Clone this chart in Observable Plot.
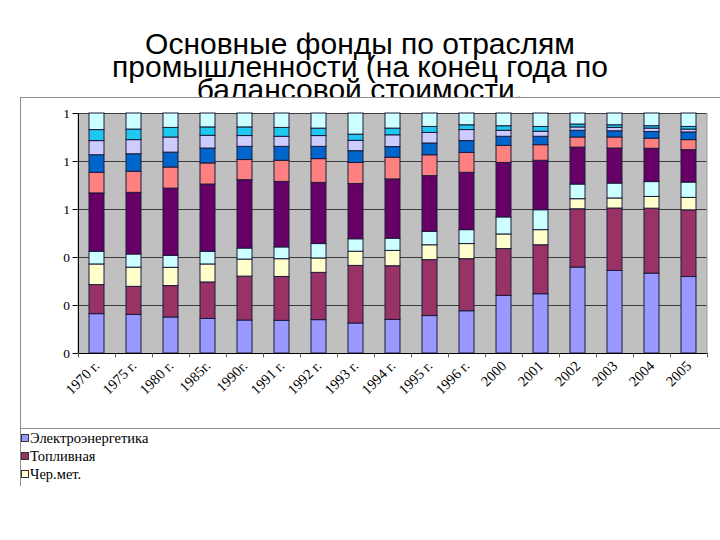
<!DOCTYPE html>
<html>
<head>
<meta charset="utf-8">
<script src="https://cdn.jsdelivr.net/npm/d3@7"></script>
<script src="https://cdn.jsdelivr.net/npm/@observablehq/plot@0.6"></script>
<style>
  html, body { margin: 0; padding: 0; background: #fff; width: 720px; height: 540px; overflow: hidden; }
  #title { position: absolute; left: 0; top: 32px; width: 720px; text-align: center;
    font-family: "Liberation Sans", Arial, sans-serif; font-size: 30px; line-height: 23px; color: #000; z-index: 0; }
  #box { position: absolute; left: 20px; top: 97px; width: 720px; height: 388px; background: #fff;
    border-top: 1px solid #8c8c8c; border-left: 1px solid #8c8c8c; z-index: 1; }
  #chart { position: absolute; left: 0; top: 0; }
  #legend { position: absolute; left: 0; top: 330px; width: 720px; border-top: 1px solid #8c8c8c;
    font-family: "Liberation Serif", "Times New Roman", serif; font-size: 14.5px; color: #000; }
  .item { height: 18px; line-height: 18px; display: flex; align-items: center; }
  .sw { width: 6px; height: 6px; border: 1px solid #333; margin-right: 1px; margin-left: 0px; }
</style>
</head>
<body>
<div id="title">Основные фонды по отраслям<br>промышленности (на конец года по<br>балансовой стоимости.</div>
<div id="box"><div id="chart"></div><div id="legend"></div></div>
<script>
const years = ["1970 г.", "1975 г.", "1980 г.", "1985г.", "1990г.", "1991 г.", "1992 г.", "1993 г.", "1994 г.", "1995 г.", "1996 г.", "2000", "2001", "2002", "2003", "2004", "2005"];
const yTicks = [0, 0.2, 0.4, 0.6, 0.8, 1];

const industryNames = ["Электроэнергетика", "Топливная", "Чер.мет.", "Цвет.мет.", "Машиностроение", "Хим. и нефтехим.", "Лесная", "Стройматериалы", "Легкая", "Пищевая"];
const industryColors = ["#9999ff", "#993366", "#ffffcc", "#ccffff", "#660066", "#ff8080", "#0066cc", "#ccccff", "#1ec8f0", "#ccffff"];
const legendShown = ["Электроэнергетика", "Топливная", "Чер.мет."];

const electro   = [0.164, 0.161, 0.150, 0.144, 0.1375, 0.136, 0.139, 0.125, 0.140, 0.156, 0.176, 0.240, 0.247, 0.358, 0.344, 0.333, 0.319];
const fuel      = [0.121, 0.117, 0.131, 0.152, 0.183, 0.183, 0.197, 0.240, 0.224, 0.233, 0.217, 0.195, 0.204, 0.243, 0.260, 0.271, 0.278];
const ferrous   = [0.086, 0.080, 0.076, 0.075, 0.071, 0.074, 0.060, 0.059, 0.064, 0.062, 0.063, 0.061, 0.063, 0.042, 0.042, 0.049, 0.052];
const nonferr   = [0.053, 0.055, 0.050, 0.053, 0.046, 0.049, 0.060, 0.052, 0.051, 0.056, 0.058, 0.071, 0.083, 0.061, 0.062, 0.062, 0.064];
const machinery = [0.243, 0.257, 0.280, 0.280, 0.285, 0.273, 0.255, 0.230, 0.247, 0.232, 0.239, 0.227, 0.206, 0.154, 0.146, 0.139, 0.135];
const chemical  = [0.086, 0.088, 0.088, 0.088, 0.084, 0.088, 0.099, 0.088, 0.091, 0.087, 0.083, 0.071, 0.065, 0.042, 0.046, 0.042, 0.042];
const forest    = [0.073, 0.073, 0.062, 0.062, 0.055, 0.058, 0.051, 0.049, 0.044, 0.049, 0.049, 0.038, 0.035, 0.028, 0.026, 0.028, 0.032];
const building  = [0.059, 0.059, 0.063, 0.053, 0.045, 0.042, 0.045, 0.043, 0.049, 0.044, 0.046, 0.025, 0.021, 0.014, 0.014, 0.014, 0.012];
const light     = [0.046, 0.044, 0.040, 0.035, 0.036, 0.037, 0.031, 0.026, 0.028, 0.025, 0.020, 0.019, 0.020, 0.012, 0.011, 0.010, 0.011];
const food      = [0.069, 0.067, 0.060, 0.058, 0.058, 0.060, 0.063, 0.088, 0.063, 0.056, 0.049, 0.053, 0.056, 0.046, 0.049, 0.053, 0.056];

const seriesValues = [electro, fuel, ferrous, nonferr, machinery, chemical, forest, building, light, food];

const rows = [];
industryNames.forEach((name, i) => {
  years.forEach((yr, j) => rows.push({year: yr, industry: name, value: seriesValues[i][j]}));
});

const W = 700, ML = 56.5, MR = 14.5;
const halfStep = (W - ML - MR) / years.length / 2;
const serif = "'Liberation Serif', 'Times New Roman', serif";

const chart = Plot.plot({
  width: W,
  height: 330,
  marginLeft: ML,
  marginRight: MR,
  marginTop: 15,
  marginBottom: 75,
  style: {fontFamily: serif, fontSize: "13.5px", background: "transparent", color: "#000", overflow: "visible"},
  x: {domain: years, paddingInner: 0.6, paddingOuter: 0.3, label: null, axis: null},
  y: {domain: [0, 1], label: null, axis: null},
  color: {domain: industryNames, range: industryColors},
  marks: [
    Plot.frame({fill: "#c0c0c0", stroke: "#9a9a9a"}),
    Plot.ruleY(yTicks, {stroke: "#3a3a3a", strokeWidth: 1}),
    Plot.barY(rows, Plot.stackY({x: "year", y: "value", fill: "industry", order: industryNames, offset: "normalize", stroke: "#1a1a3a", strokeWidth: 1})),
    Plot.ruleY([0], {stroke: "#000"}),
    Plot.ruleX(years, {x: d => d, dx: -halfStep, y1: 0, y2: -0.018, stroke: "#555", clip: false}),
    Plot.ruleX(years.slice(-1), {x: d => d, dx: halfStep, y1: 0, y2: -0.018, stroke: "#555", clip: false}),
    Plot.axisY({ticks: yTicks, tickFormat: d3.format(".0f"), label: null, tickSize: 5, tickPadding: 3, fontSize: 13.5, fontFamily: serif, stroke: "#000"}),
    Plot.ruleX([0], {x: () => years[0], dx: -halfStep, y1: 0, y2: 1, stroke: "#000"}),
    Plot.axisX({label: null, tickRotate: -45, tickSize: 0, tickPadding: 10, fontSize: 14.5, fontFamily: serif})
  ]
});
document.getElementById("chart").appendChild(chart);

const legend = document.getElementById("legend");
legendShown.forEach(name => {
  const it = document.createElement("div");
  it.className = "item";
  const sw = document.createElement("span");
  sw.className = "sw";
  sw.style.background = industryColors[industryNames.indexOf(name)];
  const tx = document.createElement("span");
  tx.textContent = name;
  it.appendChild(sw);
  it.appendChild(tx);
  legend.appendChild(it);
});
</script>
</body>
</html>
